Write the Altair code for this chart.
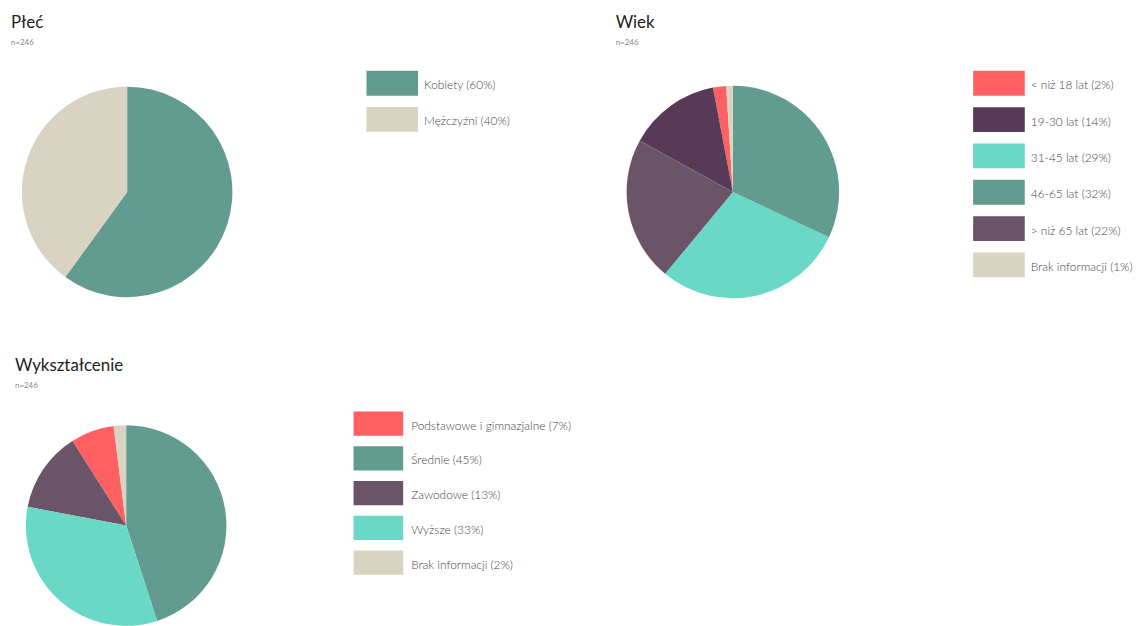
import altair as alt
import pandas as pd

FONT = "Lato"

# ---- data ----
plec_cats = ["Kobiety", "Mężczyźni"]
plec_vals = [60, 40]
plec_colors = ["#629b90", "#d9d4c1"]
plec_pie_rank = [0, 1]  # clockwise order from 12 o'clock

wiek_cats = ["< niż 18 lat", "19-30 lat", "31-45 lat", "46-65 lat", "> niż 65 lat", "Brak informacji"]
wiek_vals = [2, 14, 29, 32, 22, 1]
wiek_colors = ["#ff6163", "#583a58", "#69d8c6", "#629b90", "#6c5468", "#d9d4c1"]
wiek_pie_rank = [4, 3, 1, 0, 2, 5]

edu_cats = ["Podstawowe i gimnazjalne", "Średnie", "Zawodowe", "Wyższe", "Brak informacji"]
edu_vals = [7, 45, 13, 33, 2]
edu_colors = ["#ff6163", "#629b90", "#6c5468", "#69d8c6", "#d9d4c1"]
edu_pie_rank = [3, 0, 2, 1, 4]

n_label = "n=246"


def pie(key, cats, vals, colors, rank, width, height, radius):
    df = pd.DataFrame({key: cats, "val": vals, "rank": rank, "col": colors})
    return alt.Chart(df).mark_arc(outerRadius=radius, strokeWidth=0).encode(
        theta=alt.Theta("val:Q", stack=True),
        color=alt.Color("col:N", scale=None),
        order=alt.Order("rank:Q"),
    ).properties(width=width, height=height)


def legend(key, cats, vals, colors, step, band, sw, width):
    df = pd.DataFrame({
        key: cats,
        "label": [f"{c} ({v}%)" for c, v in zip(cats, vals)],
        "col": colors,
    })
    n = len(cats)
    p = (step - band) / step
    h = n * step - (step - band)
    y = alt.Y(f"{key}:N", sort=cats, axis=None,
              scale=alt.Scale(paddingInner=p, paddingOuter=0))
    base = alt.Chart(df)
    rects = base.mark_rect().encode(
        y=y, x=alt.value(0), x2=alt.value(sw),
        color=alt.Color("col:N", scale=None),
    )
    texts = base.mark_text(align="left", baseline="middle", font=FONT,
                           fontSize=12, fontWeight=300, color="#444444",
                           dy=2).encode(
        y=y, x=alt.value(58), text="label:N",
    )
    return (rects + texts).properties(width=width, height=h)


def title(t, dx=0, offset=23):
    return alt.TitleParams(
        t, subtitle=n_label, anchor="start", font=FONT, fontSize=17,
        fontWeight="normal", color="#222222", subtitleFont=FONT,
        subtitleFontSize=8, subtitleColor="#888888", subtitlePadding=7,
        offset=offset, dx=dx,
    )


pie1 = pie("plec", plec_cats, plec_vals, plec_colors, plec_pie_rank, 234, 244, 106)
leg1 = legend("plec", plec_cats, plec_vals, plec_colors, 36.5, 25, 52, 160)
panel1 = alt.hconcat(pie1, leg1, spacing=124, title=title("Płeć"))

pie2 = pie("wiek", wiek_cats, wiek_vals, wiek_colors, wiek_pie_rank, 236, 244, 107)
leg2 = legend("wiek", wiek_cats, wiek_vals, wiek_colors, 36.6, 25, 52, 160)
panel2 = alt.hconcat(pie2, leg2, spacing=124, title=title("Wiek"))

top = alt.hconcat(panel1, panel2, spacing=91)

pie3 = pie("edu", edu_cats, edu_vals, edu_colors, edu_pie_rank, 232, 230, 101)
leg3 = legend("edu", edu_cats, edu_vals, edu_colors, 35, 24.5, 50, 225)
panel3 = alt.hconcat(pie3, leg3, spacing=113, title=title("Wykształcenie", dx=4, offset=21))

chart = alt.vconcat(top, panel3, spacing=44).properties(
    padding={"left": 3, "top": 4, "right": 0, "bottom": 0}
).configure(font=FONT).configure_view(stroke="transparent", strokeWidth=0)

chart.save("out.html", embed_options={"renderer": "svg", "actions": False})
